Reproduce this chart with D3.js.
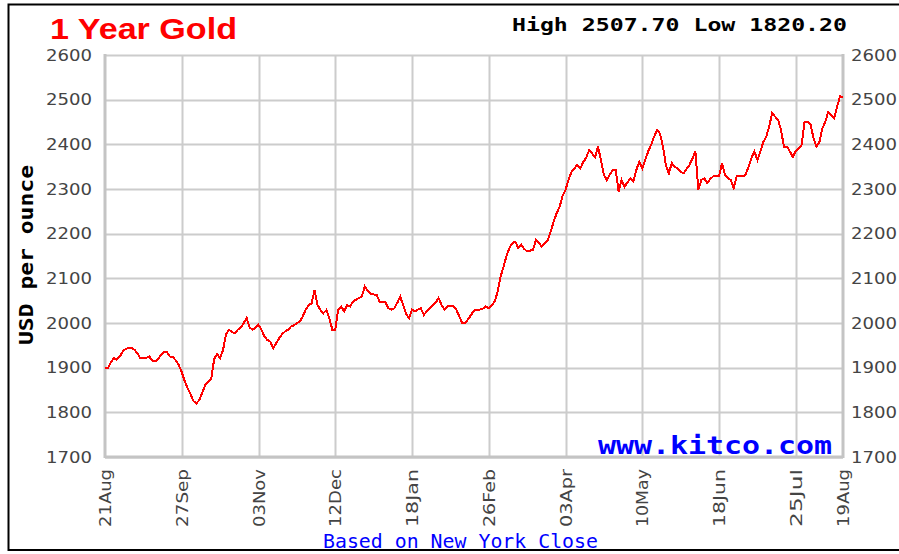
<!DOCTYPE html>
<html>
  <head>
    <meta charset="utf-8">
    <title>1 Year Gold</title>
    <script src="https://d3js.org/d3.v7.min.js"></script>
    <style>
      body { margin: 0; background: #fff; }
    </style>
  </head>
  <body>
    <div id="chart"></div>
    <script>
      // Daily New York close, USD per ounce, 21 Aug 2023 -> 19 Aug 2024 (trading days)
      const prices = [
        1899, 1899, 1912, 1921, 1918, 1925, 1936, 1942, 1944, 1944,
        1940, 1932, 1921, 1921, 1922, 1925, 1916, 1914, 1920, 1929,
        1936, 1935, 1925, 1924, 1916, 1906, 1890, 1870, 1854, 1840,
        1825, 1820.2, 1828, 1845, 1862, 1868, 1876, 1920, 1930, 1921,
        1940, 1975, 1985, 1980, 1977, 1985, 1990, 2000, 2011, 1990,
        1985, 1990, 1996, 1985, 1970, 1962, 1958, 1944, 1955, 1966,
        1975, 1981, 1985, 1992, 1995, 2000, 2003, 2015, 2030, 2040,
        2044, 2074, 2040, 2029, 2022, 2029, 2011, 1985, 1985, 2030,
        2037, 2026, 2040, 2037, 2048, 2052, 2056, 2059, 2082, 2072,
        2066, 2064, 2063, 2048, 2048, 2046, 2033, 2030, 2033, 2045,
        2059, 2040, 2020, 2011, 2030, 2026, 2030, 2033, 2018, 2026,
        2033, 2040, 2045, 2056, 2040, 2030, 2037, 2037, 2037, 2030,
        2015, 2000, 2000, 2008, 2018, 2028, 2030, 2030, 2032, 2037,
        2033, 2040, 2048, 2070, 2104, 2126, 2150, 2168, 2179, 2182,
        2168, 2175, 2166, 2160, 2162, 2164, 2186, 2179, 2171, 2179,
        2186, 2205, 2227, 2246, 2260, 2285, 2298, 2320, 2338, 2346,
        2354, 2346, 2360, 2370, 2387, 2380, 2371, 2395, 2365, 2332,
        2320, 2332, 2343, 2343, 2294, 2320, 2305, 2315, 2324, 2317,
        2343, 2361, 2346, 2365, 2384, 2399, 2417, 2432, 2424, 2395,
        2354, 2335, 2358, 2350, 2346, 2339, 2335, 2345, 2354, 2368,
        2384, 2298, 2320, 2324, 2313, 2322, 2328, 2328, 2328, 2358,
        2332, 2325, 2320, 2302, 2328, 2328, 2328, 2332, 2350, 2370,
        2384, 2365, 2384, 2405, 2417, 2440, 2470, 2462, 2455, 2432,
        2395, 2395, 2384, 2372, 2385, 2391, 2399, 2451, 2451, 2445,
        2414, 2395, 2405, 2436, 2450, 2473, 2466, 2458, 2484, 2507.7,
        2505
      ];

      // x tick positions (trading-day index) and their labels
      const tickIndex = [0, 26, 52, 78, 104, 130, 156, 182, 208, 234, 250];
      const tickLabels = ["21Aug", "27Sep", "03Nov", "12Dec", "18Jan", "26Feb",
                          "03Apr", "10May", "18Jun", "25Jul", "19Aug"];
      const yTicks = [1700, 1800, 1900, 2000, 2100, 2200, 2300, 2400, 2500, 2600];

      const width = 899;
      const height = 554;
      const plotL = 105, plotR = 843, plotT = 55, plotB = 457;

      const svg = d3.select("#chart")
        .append("svg")
        .attr("width", width)
        .attr("height", height);

      // outer frame
      svg.append("rect")
        .attr("x", 8.5).attr("y", 4.5)
        .attr("width", 900).attr("height", 545.5)
        .attr("fill", "#fff")
        .attr("stroke", "#000")
        .attr("stroke-width", 2);

      const x = d3.scaleLinear().domain([0, prices.length - 1]).range([plotL, plotR]);
      const y = d3.scaleLinear().domain([1700, 2600]).range([plotB, plotT]);

      // horizontal grid
      svg.append("g")
        .selectAll("line")
        .data(yTicks)
        .join("line")
        .attr("x1", plotL).attr("x2", plotR)
        .attr("y1", d => Math.round(y(d)) + 0.5)
        .attr("y2", d => Math.round(y(d)) + 0.5)
        .attr("stroke", "#cccccc")
        .attr("stroke-width", 2);

      // vertical grid
      svg.append("g")
        .selectAll("line")
        .data(tickIndex.slice(1, -1))
        .join("line")
        .attr("x1", d => Math.round(x(d)) + 0.5)
        .attr("x2", d => Math.round(x(d)) + 0.5)
        .attr("y1", plotT).attr("y2", plotB)
        .attr("stroke", "#cccccc")
        .attr("stroke-width", 2);

      // plot frame (left, right, bottom heavier)
      const frame = svg.append("g").attr("stroke", "#c4c4c4").attr("stroke-width", 3);
      frame.append("line").attr("x1", plotL).attr("x2", plotL).attr("y1", plotT - 1).attr("y2", plotB + 1);
      frame.append("line").attr("x1", plotR).attr("x2", plotR).attr("y1", plotT - 1).attr("y2", plotB + 1);
      frame.append("line").attr("x1", plotL).attr("x2", plotR).attr("y1", plotB).attr("y2", plotB);

      // y labels on both sides
      const tickFont = "'DejaVu Sans', sans-serif";
      svg.append("g")
        .selectAll("text")
        .data(yTicks)
        .join("text")
        .attr("x", 92)
        .attr("y", d => y(d))
        .attr("dy", "0.36em")
        .attr("text-anchor", "end")
        .attr("font-family", tickFont)
        .attr("font-size", 16)
        .attr("fill", "#444")
        .attr("textLength", 46)
        .attr("lengthAdjust", "spacingAndGlyphs")
        .text(d => d);

      svg.append("g")
        .selectAll("text")
        .data(yTicks)
        .join("text")
        .attr("x", 851)
        .attr("y", d => y(d))
        .attr("dy", "0.36em")
        .attr("font-family", tickFont)
        .attr("font-size", 16)
        .attr("fill", "#444")
        .attr("textLength", 46)
        .attr("lengthAdjust", "spacingAndGlyphs")
        .text(d => d);

      // x labels, rotated
      svg.append("g")
        .selectAll("text")
        .data(tickIndex)
        .join("text")
        .attr("transform", d => `translate(${x(d) + 6},527) rotate(-90)`)
        .attr("font-family", tickFont)
        .attr("font-size", 15)
        .attr("fill", "#444")
        .attr("textLength", 58)
        .attr("lengthAdjust", "spacingAndGlyphs")
        .text((d, i) => tickLabels[i]);

      // price line
      const line = d3.line()
        .x((d, i) => x(i))
        .y(d => y(d));

      svg.append("path")
        .datum(prices)
        .attr("d", line)
        .attr("fill", "none")
        .attr("stroke", "#ff0000")
        .attr("stroke-width", 2)
        .attr("shape-rendering", "crispEdges");

      // title
      svg.append("text")
        .attr("x", 50).attr("y", 39)
        .attr("font-family", "'Liberation Sans', Arial, sans-serif")
        .attr("font-weight", "bold")
        .attr("font-size", 30)
        .attr("fill", "#ff0000")
        .attr("textLength", 187)
        .attr("lengthAdjust", "spacingAndGlyphs")
        .text("1 Year Gold");

      const hi = d3.max(prices), lo = d3.min(prices);
      svg.append("text")
        .attr("x", 512).attr("y", 30.5)
        .attr("font-family", "'DejaVu Sans Mono', monospace")
        .attr("font-weight", "bold")
        .attr("font-size", 17)
        .attr("fill", "#000")
        .attr("textLength", 335)
        .attr("lengthAdjust", "spacingAndGlyphs")
        .text(`High ${hi.toFixed(2)} Low ${lo.toFixed(2)}`);

      // y axis title
      svg.append("text")
        .attr("transform", "translate(33,255) rotate(-90)")
        .attr("text-anchor", "middle")
        .attr("font-family", "'DejaVu Sans Mono', monospace")
        .attr("font-weight", "bold")
        .attr("font-size", 19)
        .attr("fill", "#000")
        .attr("textLength", 180)
        .attr("lengthAdjust", "spacingAndGlyphs")
        .text("USD per ounce");

      // watermark and footer
      svg.append("text")
        .attr("x", 598).attr("y", 454)
        .attr("font-family", "'DejaVu Sans Mono', monospace")
        .attr("font-weight", "bold")
        .attr("font-size", 24)
        .attr("fill", "#0000ff")
        .attr("textLength", 234)
        .attr("lengthAdjust", "spacingAndGlyphs")
        .text("www.kitco.com");

      svg.append("text")
        .attr("x", 323).attr("y", 548)
        .attr("font-family", "'DejaVu Sans Mono', monospace")
        .attr("font-size", 19)
        .attr("fill", "#0000ff")
        .attr("textLength", 275)
        .attr("lengthAdjust", "spacingAndGlyphs")
        .text("Based on New York Close");
    </script>
  </body>
</html>
